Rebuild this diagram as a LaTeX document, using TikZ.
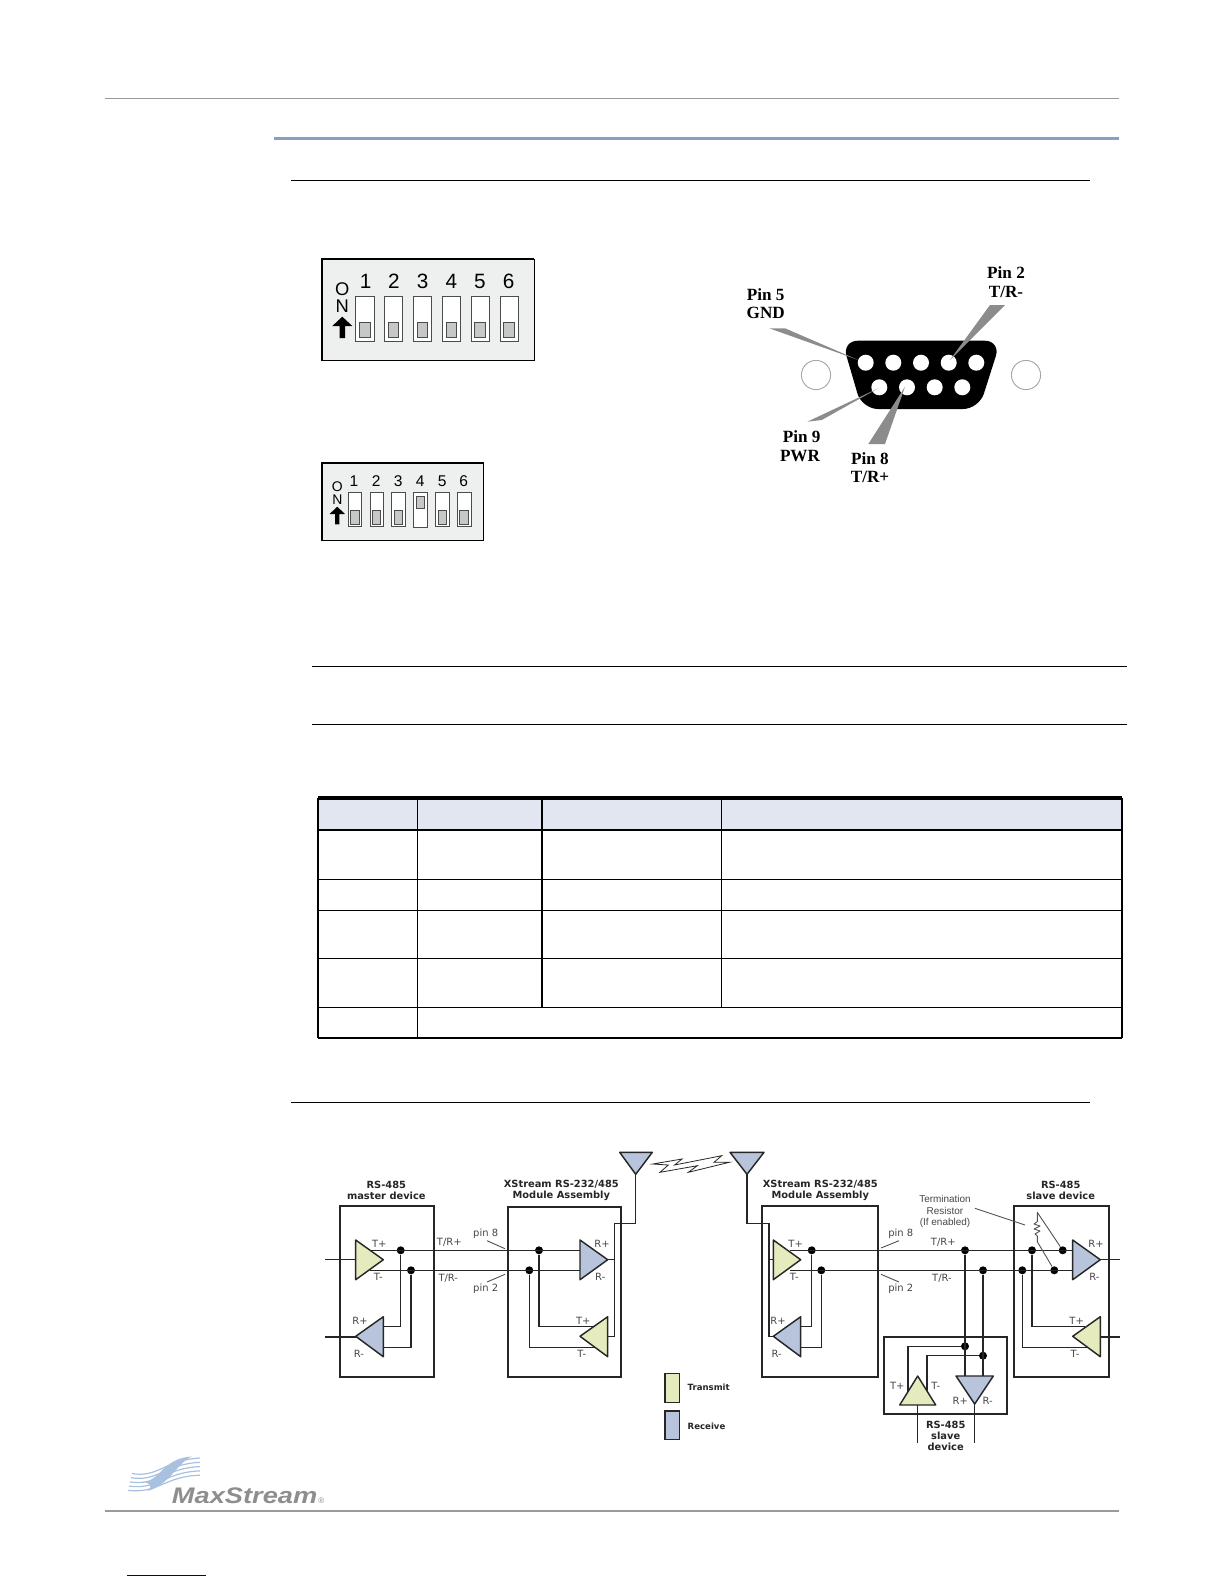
\documentclass[tikz,border=0pt]{standalone}
\usepackage{fontspec}
\setmainfont{DejaVu Sans}
\newfontfamily\arialf{Liberation Sans}
\newfontfamily\serifl{Liberation Serif}
\definecolor{txy}{HTML}{E6EBBE}
\definecolor{rxb}{HTML}{B7C4DC}
\definecolor{ink}{HTML}{262626}
\definecolor{swblue}{HTML}{A9C1DE}
\definecolor{logogray}{HTML}{8E8E8E}
\definecolor{rulegray}{HTML}{9A9A9A}
\definecolor{rulebl}{HTML}{8A9FC0}
\definecolor{tablehd}{HTML}{E2E6F0}
\definecolor{dipbg}{HTML}{EEEFEF}
\definecolor{dipin}{HTML}{C6C8C8}
\definecolor{wedge}{HTML}{8C8C8C}
\tikzset{
 wire/.style={draw=ink,line width=.68bp},
 thinw/.style={draw=ink!80,line width=.45bp},
 devbox/.style={draw=ink,line width=.85bp},
 jn/.style={circle,fill=black,inner sep=0pt,minimum size=4bp},
 tri/.style={draw=ink,line width=.72bp,line join=round},
 lab/.style={inner sep=0pt,text=ink!85,font=\fontsize{5}{6}\selectfont},
 ttl/.style={inner sep=0pt,text=ink,align=center,font=\fontsize{4.95}{6}\selectfont\bfseries},
 arlab/.style={inner sep=0pt,text=ink!85,font=\arialf\fontsize{5}{6}\selectfont},
 pinlab/.style={inner sep=0pt,text=black,font=\serifl\fontsize{8.6}{10}\selectfont\bfseries},
 digitB/.style={inner sep=0pt,text=black,font=\arialf\fontsize{10.4}{11}\selectfont},
 digitBn/.style={inner sep=0pt,text=black,font=\arialf\fontsize{9.2}{11}\selectfont},
 digitS/.style={inner sep=0pt,text=black,font=\arialf\fontsize{7.8}{9}\selectfont},
 digitSn/.style={inner sep=0pt,text=black,font=\arialf\fontsize{7}{9}\selectfont},
 tline/.style={draw=black,line width=.6bp},
 hole/.style={circle,fill=white,inner sep=0pt,minimum size=8bp},
 sidehole/.style={circle,draw=gray!70,fill=white,line width=.45bp,inner sep=0pt,minimum size=14.6bp},
 swoosh/.style={draw=swblue,line width=.6bp},
}
% triangle: name, vertices, fill
\newcommand{\trigate}[5]{%
  \coordinate (#1-a) at (#2); \coordinate (#1-b) at (#3); \coordinate (#1-c) at (#4);
  \draw[tri,fill=#5] (#1-a) -- (#1-b) -- (#1-c) -- cycle;}
\newcommand{\dipsw}[7]{% half width,x1,x2,y1,y2,iy1,iy2
  \path[draw=black!70,fill=white,line width=.5bp] (#2,#4) rectangle (#3,#5);
  \path[draw=black!70,fill=dipin,line width=.5bp] ({(#2+#3)/2-#1},#6) rectangle ({(#2+#3)/2+#1},#7);}
\begin{document}
\begin{tikzpicture}[x=.5bp,y=-.5bp]
\useasboundingbox (0,0) rectangle (1224,1584);
\fill[white] (0,0) rectangle (1224,1584);
% page rules
\coordinate (r1a) at (105,98.3); \coordinate (r1b) at (1119,98.3);
\draw[rulegray,line width=.6bp] (r1a) -- (r1b);
\coordinate (r2a) at (274,138.3); \coordinate (r2b) at (1119,138.3);
\draw[rulebl,line width=1.5bp] (r2a) -- (r2b);
\coordinate (r3a) at (291,180.5); \coordinate (r3b) at (1090,180.5);
\draw[black,line width=.5bp] (r3a) -- (r3b);
\coordinate (r4a) at (312,666); \coordinate (r4b) at (1127,666);
\draw[black,line width=.42bp] (r4a) -- (r4b);
\coordinate (r5a) at (312,724); \coordinate (r5b) at (1127,724);
\draw[black,line width=.42bp] (r5a) -- (r5b);
\coordinate (r6a) at (291,1102.5); \coordinate (r6b) at (1090,1102.5);
\draw[black,line width=.5bp] (r6a) -- (r6b);
\coordinate (r7a) at (105,1511); \coordinate (r7b) at (1119,1511);
\draw[rulegray,line width=.6bp] (r7a) -- (r7b);
\coordinate (r8a) at (127.3,1575.3); \coordinate (r8b) at (206,1575.3);
\draw[blue!50!black,line width=.6bp] (r8a) -- (r8b);

% DIP switch 1
\path[fill=dipbg] (321.7,259) rectangle (534.3,360.3);
\draw[black,line width=.5bp] (321.7,259) rectangle (534.3,360.3);
\draw[black,line width=1.1bp] (321.7,360.3) -- (321.7,259) -- (534.3,259);
\foreach \xa/\xb in {355.7/374.3,384.3/402.7,413.3/431.3,442.3/460.3,471.3/489,500/518}{\dipsw{5.2}{\xa}{\xb}{296.3}{341.7}{322}{337.7}}
\foreach \n/\x in {1/365.7,2/394,3/422.7,4/451.3,5/480,6/508.7}{\node[digitB] (da\n) at (\x,281.7) {\n};}
\node[digitBn] (daO) at (342.3,289.5) {O};
\node[digitBn] (daN) at (342.3,306.5) {N};
\fill[black] (342.3,316.7) -- (352.3,326) -- (345,326) -- (345,338) -- (339.6,338) -- (339.6,326) -- (332.3,326) -- cycle;

% DIP switch 2
\path[fill=dipbg] (321.7,463) rectangle (483.7,540.3);
\draw[black,line width=.5bp] (321.7,463) rectangle (483.7,540.3);
\draw[black,line width=.9bp] (321.7,540.3) -- (321.7,463) -- (483.7,463);
\foreach \xa/\xb in {348/361.7,370/383.3,391.7/405,435.3/449.3,457/471.3}{\dipsw{4.2}{\xa}{\xb}{492.3}{526.7}{510.7}{524.3}}
\dipsw{4.2}{413.3}{427.7}{492.3}{527.5}{496.7}{508.3}
\foreach \n/\x in {1/354,2/376.3,3/398.3,4/420.3,5/442.3,6/463.7}{\node[digitS] (db\n) at (\x,481) {\n};}
\node[digitSn] (dbO) at (337.3,486.8) {O};
\node[digitSn] (dbN) at (337.3,499.5) {N};
\fill[black] (337.3,506.7) -- (345,514) -- (339.4,514) -- (339.4,524.3) -- (335.2,524.3) -- (335.2,514) -- (329.6,514) -- cycle;

% DB-9 connector
\fill[black,rounded corners=8bp] (842,340.7) -- (1000.7,340.7) -- (979,409) -- (862,409) -- cycle;
\foreach \n/\x in {a/865.7,b/893.3,c/921,d/948.7,e/976.3}{\node[hole] (h\n) at (\x,362.7) {};}
\foreach \n/\x in {f/879.3,g/907,h/934.7,i/962.3}{\node[hole] (h\n) at (\x,387.3) {};}
\node[sidehole] (sl) at (816,375) {};
\node[sidehole] (sr) at (1026,375) {};
\fill[wedge] (769.3,328.3) -- (785,328.3) -- (858.3,360) -- cycle;
\fill[wedge] (990,305) -- (1005,305) -- (950,360) -- cycle;
\fill[wedge] (807.3,421.7) -- (821.7,420) -- (878.3,388.3) -- cycle;
\fill[wedge] (868.3,444) -- (885,444) -- (905,386.7) -- cycle;
\node[pinlab] (p5a) at (765.7,294.3) {Pin 5};
\node[pinlab] (p5b) at (765.7,313.3) {GND};
\node[pinlab] (p2a) at (1006,272.3) {Pin 2};
\node[pinlab] (p2b) at (1006,291.7) {T/R-};
\node[pinlab] (p9a) at (801.7,436.7) {Pin 9};
\node[pinlab] (p9b) at (800,456) {PWR};
\node[pinlab] (p8a) at (870,458.3) {Pin 8};
\node[pinlab] (p8b) at (870,477.3) {T/R+};

% table
\fill[tablehd] (318,798) rectangle (1122,830);
\draw[black,line width=1.6bp] (318,798) -- (1122,798);
\foreach \y in {830,879.5,910.5,958.5,1007.5,1038}{\draw[tline] (318,\y) -- (1122,\y);}
\draw[tline] (318,798) -- (318,1038);
\draw[tline] (1122,798) -- (1122,1038);
\draw[tline] (417.5,798) -- (417.5,1038);
\draw[tline] (542,798) -- (542,1007.5);
\draw[tline] (721.5,798) -- (721.5,1007.5);

% antennas and lightning
\draw[fill=white,draw=ink,line width=.4bp,line join=miter] (652.7,1164) -- (682,1159) -- (674.5,1165) -- (721.7,1155.7) -- (714,1162.3) -- (729.3,1162.3) -- (688.3,1172.3) -- (697.3,1165.7) -- (660,1172.3) -- (668.3,1165) -- cycle;

% --- wires
\coordinate (inL) at (325,1259.7);   \coordinate (txLin) at (360,1259.7);
\draw[wire] (inL) -- (txLin);
\coordinate (outL) at (325,1337);    \coordinate (rxLout) at (360,1337);
\draw[wire] (outL) -- (rxLout);
\node[jn] (dA1) at (400.7,1250.3) {};
\node[jn] (dB1) at (411,1270.3) {};
\node[jn] (dA2) at (539,1250.3) {};
\node[jn] (dB2) at (529.3,1270.3) {};
\coordinate (aL) at (370,1250.3); \coordinate (aR) at (590,1250.3);
\coordinate (bL) at (370,1270.3); \coordinate (bR) at (590,1270.3);
\draw[wire] (aL) -- (aR);
\draw[wire] (bL) -- (bR);
\coordinate (rxL1) at (375,1326.7); \coordinate (rxL2) at (375,1347.7);
\draw[wire] (dA1) |- (rxL1);
\draw[wire] (dB1) |- (rxL2);
\coordinate (txM1) at (595,1326.7); \coordinate (txM2) at (600,1347.7);
\draw[wire] (dA2) |- (txM1);
\draw[wire] (dB2) |- (txM2);
% mid assembly antenna feed
\coordinate (antL) at (635.7,1165);
\coordinate (jogL) at (614.3,1223.7);
\coordinate (rxMout) at (600,1259.7);
\coordinate (txMout) at (600,1336.3);
\draw[wire] (antL) |- (jogL) -- (jogL |- txMout) -- (txMout);
\draw[wire] (rxMout) -- (rxMout -| jogL);
% right assembly antenna feed
\coordinate (antR) at (747,1165);
\coordinate (jogR) at (769,1223.7);
\coordinate (txRin) at (780,1259.7);
\coordinate (rxRout) at (780,1336.3);
\draw[wire] (antR) |- (jogR) -- (jogR |- rxRout) -- (rxRout);
\draw[wire] (jogR |- txRin) -- (txRin);
% right bus
\node[jn] (dA3) at (811.7,1250.3) {};
\node[jn] (dB3) at (821.3,1270.3) {};
\node[jn] (dA4) at (965,1250.3) {};
\node[jn] (dB4) at (983,1270.3) {};
\node[jn] (dA5) at (1032,1250.3) {};
\node[jn] (dB5) at (1022.3,1270.3) {};
\node[jn] (dA6) at (1062.7,1250.3) {};
\node[jn] (dB6) at (1054.3,1270.3) {};
\coordinate (a2L) at (790,1250.3); \coordinate (a2R) at (1080,1250.3);
\coordinate (b2L) at (790,1270.3); \coordinate (b2R) at (1080,1270.3);
\draw[wire] (a2L) -- (a2R);
\draw[wire] (b2L) -- (b2R);
\coordinate (rxR1) at (795,1326.7); \coordinate (rxR2) at (795,1347.7);
\draw[wire] (dA3) |- (rxR1);
\draw[wire] (dB3) |- (rxR2);
\coordinate (txS1) at (1085,1326.3); \coordinate (txS2) at (1092,1347.3);
\draw[wire] (dA5) |- (txS1);
\draw[wire] (dB5) |- (txS2);
\coordinate (outS1) at (1090,1259.7); \coordinate (outS1e) at (1120,1259.7);
\draw[wire] (outS1) -- (outS1e);
\coordinate (outS2) at (1090,1337); \coordinate (outS2e) at (1120,1337);
\draw[wire] (outS2) -- (outS2e);
% small slave device
\node[jn] (dA7) at (965,1346.3) {};
\node[jn] (dB7) at (983,1355.7) {};
\coordinate (rxDa) at (965,1380); \coordinate (rxDb) at (983,1380);
\draw[wire] (dA4) -- (rxDa);
\draw[wire] (dB4) -- (rxDb);
\coordinate (txDa) at (908,1395); \coordinate (txDb) at (927,1395);
\draw[wire] (dA7) -| (txDa);
\draw[wire] (dB7) -| (txDb);
\coordinate (txDo) at (917.7,1400); \coordinate (txDe) at (917.7,1443);
\draw[wire] (txDo) -- (txDe);
\coordinate (rxDo) at (974.7,1400); \coordinate (rxDe) at (974.7,1443);
\draw[wire] (rxDo) -- (rxDe);

% termination resistor
\coordinate (rtop) at (1037.3,1212.3);
\coordinate (rbot) at (1037.3,1241.7);
\draw[thinw,line join=round] (dA6) -- (rtop) -- (1037.3,1221.7) -- (1034,1224) -- (1040,1226) -- (1034,1229) -- (1040,1231) -- (1035,1234) -- (1037.3,1236) -- (rbot) -- (dB6);

% --- gates
\trigate{t1}{355.7,1240}{355.7,1279.7}{383.3,1259.7}{txy}
\trigate{t2}{383.3,1316.7}{383.3,1356.7}{355.7,1336.3}{rxb}
\trigate{t3}{580,1240}{580,1279.7}{607.7,1259.7}{rxb}
\trigate{t4}{607.7,1316.7}{607.7,1356.7}{580,1336.3}{txy}
\trigate{t5}{773.3,1240}{773.3,1279.7}{800.7,1259.7}{txy}
\trigate{t6}{800.7,1316.7}{800.7,1356.7}{773.3,1336.3}{rxb}
\trigate{t7}{1072.7,1240}{1072.7,1279.7}{1100.3,1259.7}{rxb}
\trigate{t8}{1100.3,1316.7}{1100.3,1356.7}{1072.7,1336.3}{txy}
\trigate{t9}{917.7,1376}{899.7,1405}{935.7,1405}{txy}
\trigate{t10}{956,1376}{993.3,1376}{974.7,1404}{rxb}
\trigate{an1}{619.7,1152.3}{652.3,1152.3}{635.7,1174.3}{rxb}
\trigate{an2}{730,1152.3}{764,1152.3}{747,1174.3}{rxb}

% boxes
\draw[devbox] (340,1205.7) rectangle (434,1377);
\draw[devbox] (507.7,1206.7) rectangle (621.3,1377);
\draw[devbox] (761.7,1206) rectangle (878,1377);
\draw[devbox] (1013.7,1206.3) rectangle (1108.7,1377);
\draw[devbox] (884.3,1336.7) rectangle (1007,1413.7);

% leaders
\coordinate (l1a) at (487,1240.7); \coordinate (l1b) at (505,1248.7);
\coordinate (l2a) at (487,1282);   \coordinate (l2b) at (505,1274.3);
\coordinate (l3a) at (881,1248);   \coordinate (l3b) at (899,1240.7);
\coordinate (l4a) at (881,1274.3); \coordinate (l4b) at (899,1282);
\coordinate (l5a) at (975,1208.3); \coordinate (l5b) at (1025,1225);
\foreach \p in {l1,l2,l3,l4,l5}{\draw[thinw] (\p a) -- (\p b);}

% labels
\node[ttl] (n1) at (386.3,1190.5) {RS-485\\[-.15bp]master device};
\node[ttl] (n2) at (561.3,1190.5) {XStream RS-232/485\\[-.15bp]Module Assembly};
\node[ttl] (n3) at (820.3,1190.5) {XStream RS-232/485\\[-.15bp]Module Assembly};
\node[ttl] (n4) at (1060.7,1190.5) {RS-485\\[-.15bp]slave device};
\node[ttl] (n5) at (945.7,1436) {RS-485\\[-.3bp]slave\\[-.3bp]device};
\foreach \n/\x/\y/\t in {a1/379.3/1244/T+,a2/378.3/1277.3/T-,a3/360/1320.7/R+,a4/359/1354/R-,
 b1/602/1244/R+,b2/600.3/1277.3/R-,b3/583.3/1320.7/T+,b4/581.7/1354/T-,
 c1/795.7/1244/T+,c2/794.3/1277.3/T-,c3/778/1320.7/R+,c4/776.7/1354/R-,
 e1/1096/1244/R+,e2/1094.3/1277.3/R-,e3/1076.7/1320.7/T+,e4/1075/1354/T-,
 f1/897.3/1385.7/T+,f2/935.7/1385.7/T-,f3/960.3/1400.7/R+,f4/987.7/1400.7/R-,
 g5/485.7/1234/pin 8,g6/485.7/1288.3/pin 2,g7/900.7/1234/pin 8,g8/900.7/1288.3/pin 2}
 {\node[lab] (\n) at (\x,\y) {\t};}
\node[lab] (g1) at (449.3,1242.7) {T/R+};
\node[lab] (g2) at (448.3,1278.3) {T/R-};
\node[lab] (g3) at (943.3,1242.7) {T/R+};
\node[lab] (g4) at (942,1278.3) {T/R-};
\node[arlab] (tm1) at (945,1199.3) {Termination};
\node[arlab] (tm2) at (945,1210.7) {Resistor};
\node[arlab] (tm3) at (945,1222.7) {(If enabled)};

% legend
\draw[line width=.6bp,draw=ink,fill=txy] (665,1373.7) rectangle (679.7,1402.3);
\draw[line width=.6bp,draw=ink,fill=rxb] (665,1411) rectangle (679.7,1439.7);
\node[ttl,anchor=west,font=\fontsize{4.3}{5}\selectfont\bfseries] (lg1) at (687.3,1387.7) {Transmit};
\node[ttl,anchor=west,font=\fontsize{4.3}{5}\selectfont\bfseries] (lg2) at (687.3,1426) {Receive};

% logo
\fill[swblue] (143,1482) .. controls (160,1481) and (163,1458) .. (192,1456.5)
  .. controls (178,1462) and (170,1484) .. (148,1491)
  .. controls (153,1486) and (150,1483) .. (143,1482) -- cycle;
\foreach \i in {0,1,2,3,4}{
 \draw[swoosh] ({132-\i},{1473.5+\i*4.2}) .. controls (158,{1478+\i*4}) and (165,{1460+\i*4}) .. (200,{1458+\i*4.3});
}
\node[inner sep=0pt,text=logogray,font=\arialf\fontsize{11.3}{12}\selectfont\bfseries\itshape,anchor=west,xscale=1.21] (lgo) at (171.5,1495.5) {MaxStream};
\node[inner sep=0pt,text=logogray,font=\arialf\fontsize{4}{5}\selectfont] (lgr) at (321.3,1501) {®};
\end{tikzpicture}
\end{document}
